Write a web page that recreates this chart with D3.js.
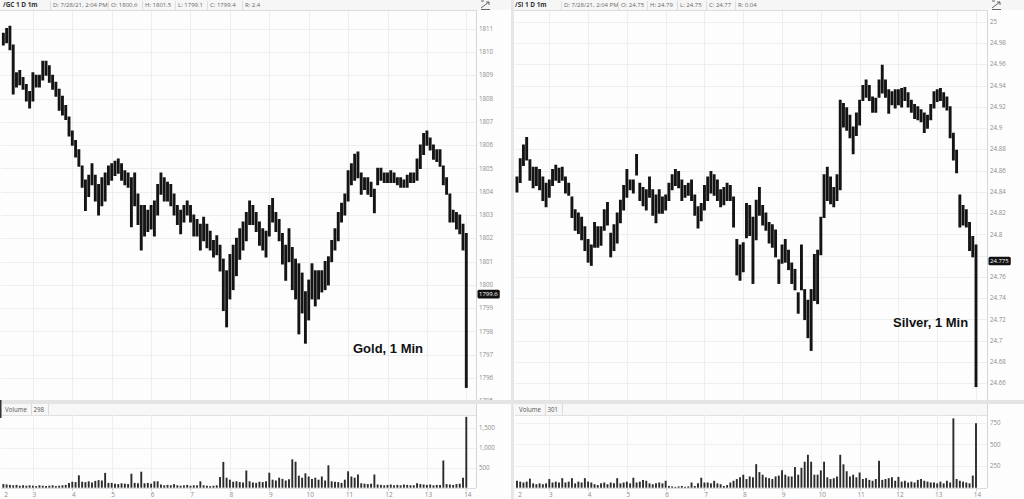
<!DOCTYPE html>
<html><head><meta charset="utf-8">
<script src="https://cdn.jsdelivr.net/npm/d3@7"></script>
<style>
html,body{margin:0;padding:0;background:#fff;}
svg{display:block;font-family:"Open Sans","DejaVu Sans",sans-serif;}
</style></head><body>
<svg id="c" width="1024" height="499"></svg>
<script>
// ---------------- DATA ----------------
const hourTicks = [2,3,4,5,6,7,8,9,10,11,12,13,14];
const barMinutes = 5;
const goldStartHour = 2.25;      // 02:15
const silverStartHour = 2 + 10/60; // 02:10

const goldHeader = ["/GC 1 D 1m","D: 7/28/21, 2:04 PM","O: 1800.6","H: 1801.5","L: 1799.1","C: 1799.4","R: 2.4"];
const silverHeader = ["/SI 1 D 1m","D: 7/28/21, 2:04 PM","O: 24.75","H: 24.79","L: 24.75","C: 24.77","R: 0.04"];

const goldPriceTicks = [1795,1796,1797,1798,1799,1800,1801,1802,1803,1804,1805,1806,1807,1808,1809,1810,1811];
const goldPriceLabels = ["1795","1796","1797","1798","1799","1800","1801","1802","1803","1804","1805","1806","1807","1808","1809","1810","1811"];
const silverPriceTicks = [24.66,24.68,24.70,24.72,24.74,24.76,24.78,24.80,24.82,24.84,24.86,24.88,24.90,24.92,24.94,24.96,24.98,25.00];
const silverPriceLabels = ["24.66","24.68","24.7","24.72","24.74","24.76","24.78","24.8","24.82","24.84","24.86","24.88","24.9","24.92","24.94","24.96","24.98","25"];

const goldVolTicks = [500,1000,1500];
const goldVolLabels = ["500","1,000","1,500"];
const silverVolTicks = [250,500,750];
const silverVolLabels = ["250","500","750"];

const goldLast = 1799.6, goldLastLabel = "1799.6", goldVolNow = "298";
const silverLast = 24.775, silverLastLabel = "24.775", silverVolNow = "301";

const goldHigh = [
1810.8,1811.0,1811.1,1810.3,1809.1,1809.2,1808.9,1808.6,1808.3,1809.1,
1809.0,1809.0,1809.6,1809.6,1809.4,1809.0,1808.7,1808.4,1808.1,1807.7,
1807.2,1806.6,1806.2,1805.8,1805.1,1804.5,1804.7,1805.2,1804.7,1804.3,
1804.6,1804.8,1805.1,1805.2,1805.3,1805.4,1805.2,1804.9,1804.8,1804.6,
1804.8,1803.9,1803.4,1803.4,1803.2,1803.4,1803.6,1804.3,1804.8,1804.6,
1804.4,1804.3,1803.9,1803.4,1803.2,1803.4,1803.6,1803.4,1803.0,1802.8,
1802.6,1802.9,1802.6,1802.3,1801.9,1802.1,1801.7,1801.1,1800.6,1801.3,
1801.7,1802.0,1802.4,1802.7,1803.1,1803.6,1803.4,1803.1,1802.7,1802.4,
1802.3,1803.4,1803.7,1803.1,1802.8,1802.2,1801.7,1802.4,1801.6,1801.1,
1800.9,1800.5,1799.7,1800.2,1800.9,1800.6,1800.6,1800.6,1801.0,1801.2,
1801.9,1802.4,1803.1,1803.5,1803.9,1804.9,1805.2,1805.6,1805.7,1804.8,
1804.6,1804.6,1804.4,1804.1,1805.0,1805.0,1804.8,1804.8,1804.9,1804.8,
1804.6,1804.6,1804.5,1804.7,1804.8,1804.8,1805.4,1806.0,1806.5,1806.6,
1806.3,1806.0,1805.8,1805.8,1805.1,1804.6,1803.9,1803.2,1803.1,1803.0,
1802.6,1802.2];
const goldLow = [
1810.3,1810.4,1810.1,1808.2,1808.5,1808.6,1808.4,1807.9,1807.6,1807.9,
1808.5,1808.5,1808.8,1809.0,1808.7,1808.4,1808.1,1807.5,1807.3,1807.1,
1806.4,1806.0,1805.5,1805.1,1804.2,1803.2,1803.8,1804.3,1803.6,1803.0,
1803.4,1803.6,1804.3,1804.5,1804.7,1804.8,1804.5,1804.3,1804.2,1802.5,
1803.4,1802.6,1801.5,1802.1,1802.3,1802.4,1802.1,1803.0,1803.9,1803.6,
1803.6,1803.4,1803.0,1802.6,1802.2,1802.7,1803.0,1802.7,1802.1,1802.1,
1801.5,1801.9,1801.6,1801.5,1801.2,1801.3,1800.6,1798.9,1798.2,1799.4,
1799.8,1800.4,1801.1,1801.5,1801.9,1802.6,1802.6,1802.3,1801.7,1801.5,
1801.2,1802.1,1802.7,1802.3,1801.9,1800.9,1800.2,1801.0,1799.8,1799.4,
1797.9,1798.8,1797.5,1798.5,1799.4,1799.1,1799.4,1799.7,1799.8,1800.0,
1801.0,1801.5,1801.9,1802.7,1803.0,1803.6,1804.3,1804.5,1804.6,1803.9,
1804.1,1803.9,1803.8,1803.1,1804.3,1804.5,1804.4,1804.4,1804.4,1804.4,
1804.3,1804.2,1804.2,1804.2,1804.4,1804.4,1804.5,1805.0,1805.6,1806.0,
1805.8,1805.4,1805.3,1805.1,1804.3,1803.9,1802.7,1802.7,1802.4,1802.2,
1801.5,1795.6];
const goldVolume = [
90,80,70,60,70,50,60,50,60,50,
40,60,50,40,50,60,40,50,60,70,
120,150,140,310,150,140,160,130,170,190,
180,370,120,120,100,90,110,100,90,350,
120,110,400,110,120,100,160,160,80,60,
70,60,90,60,50,60,70,50,60,60,
160,60,50,40,50,60,270,645,250,200,
150,160,140,130,430,160,130,120,150,140,
160,375,200,180,250,220,180,210,710,650,
300,250,360,280,220,250,200,280,180,560,
160,150,140,120,200,410,280,250,330,110,
100,90,100,330,80,70,60,70,80,60,
70,60,80,70,60,60,110,90,80,70,
80,60,70,70,680,90,80,70,90,100,
250,1770];

const silverHigh = [
24.854,24.871,24.884,24.891,24.870,24.863,24.863,24.861,24.854,24.848,
24.851,24.861,24.865,24.862,24.863,24.854,24.848,24.835,24.823,24.820,
24.816,24.807,24.795,24.790,24.811,24.807,24.807,24.823,24.830,24.801,
24.809,24.820,24.832,24.846,24.861,24.851,24.851,24.875,24.848,24.844,
24.842,24.854,24.842,24.837,24.842,24.835,24.837,24.848,24.856,24.861,
24.859,24.851,24.846,24.848,24.851,24.837,24.826,24.829,24.846,24.854,
24.859,24.856,24.851,24.842,24.844,24.848,24.846,24.835,24.795,24.790,
24.792,24.829,24.827,24.816,24.832,24.844,24.827,24.820,24.811,24.809,
24.804,24.776,24.790,24.795,24.785,24.773,24.767,24.745,24.790,24.748,
24.738,24.748,24.781,24.785,24.816,24.856,24.863,24.854,24.844,24.856,
24.926,24.923,24.919,24.912,24.901,24.914,24.926,24.940,24.945,24.940,
24.929,24.928,24.945,24.959,24.945,24.936,24.934,24.936,24.936,24.937,
24.938,24.933,24.926,24.922,24.920,24.917,24.914,24.912,24.922,24.934,
24.936,24.937,24.933,24.929,24.920,24.895,24.879,24.837,24.827,24.823,
24.811,24.798,24.790];
const silverLow = [
24.840,24.849,24.865,24.870,24.851,24.844,24.846,24.842,24.832,24.826,
24.835,24.846,24.851,24.849,24.851,24.839,24.837,24.816,24.804,24.801,
24.795,24.785,24.774,24.771,24.788,24.788,24.790,24.804,24.809,24.779,
24.785,24.792,24.811,24.823,24.835,24.842,24.839,24.856,24.832,24.827,
24.823,24.835,24.818,24.811,24.820,24.820,24.823,24.832,24.842,24.846,
24.844,24.832,24.835,24.837,24.832,24.818,24.806,24.813,24.823,24.832,
24.839,24.837,24.832,24.826,24.828,24.832,24.832,24.807,24.762,24.757,
24.765,24.797,24.799,24.754,24.795,24.818,24.809,24.804,24.792,24.788,
24.779,24.754,24.773,24.774,24.767,24.754,24.748,24.726,24.748,24.720,
24.703,24.691,24.738,24.735,24.781,24.816,24.832,24.829,24.826,24.832,
24.842,24.901,24.898,24.891,24.876,24.893,24.903,24.926,24.929,24.926,
24.915,24.915,24.929,24.933,24.929,24.914,24.922,24.919,24.922,24.920,
24.926,24.920,24.915,24.909,24.908,24.906,24.896,24.900,24.908,24.919,
24.925,24.926,24.920,24.917,24.891,24.870,24.858,24.807,24.809,24.807,
24.785,24.779,24.657];
const silverVolume = [
80,70,60,70,105,50,40,50,40,50,
100,60,70,60,110,60,70,110,50,70,
60,110,70,60,40,30,50,60,40,60,
50,110,50,60,70,50,115,60,70,90,
80,50,40,50,60,50,80,20,15,10,
15,20,10,15,60,20,50,115,60,60,
50,80,50,40,20,30,60,80,100,120,
150,100,130,120,272,180,150,120,110,100,
130,140,200,150,130,130,240,150,230,300,
380,300,150,150,200,300,120,100,110,130,
380,270,190,130,150,120,175,100,110,90,
80,100,310,90,100,110,120,80,125,70,
80,60,70,60,90,100,80,70,60,60,
50,70,50,80,60,800,100,80,70,60,
50,140,745];

// ---------------- DRAW ----------------
const svg = d3.select("#c");
svg.append("rect").attr("width",1024).attr("height",499).attr("fill","#ffffff");

function drawPanel(p) {
  const g = svg.append("g");
  const L = p.left, PL = p.plotLeft, PR = p.plotRight, R = p.right;
  const priceTop = 10.5, priceBot = 400, volTop = 415, volBot = 488;

  const x = d3.scaleLinear().domain(p.xDomain).range(p.xRange);
  const y = d3.scaleLinear().domain(p.yDomain).range(p.yRange);
  const yv = d3.scaleLinear().domain(p.vDomain).range(p.vRange);

  const bars = p.high.map((h,i)=>({t: p.start + i*barMinutes/60, h, l: p.low[i], v: p.vol[i]}));

  g.append("rect").attr("x",L).attr("y",0).attr("width",R-L).attr("height",499).attr("fill","#fdfdfd");

  const cid = "clip"+p.id;
  svg.append("clipPath").attr("id",cid).append("rect")
     .attr("x",PL).attr("y",priceTop).attr("width",PR-PL).attr("height",priceBot-priceTop);

  // grid (price)
  g.append("g").selectAll("line").data(p.priceTicks).join("line")
    .attr("x1",PL).attr("x2",PR).attr("y1",d=>Math.round(y(d))+0.5).attr("y2",d=>Math.round(y(d))+0.5)
    .attr("stroke","#eeeeee").attr("stroke-width",1);
  g.append("g").selectAll("line").data(hourTicks.filter(h=>x(h)>PL && x(h)<PR)).join("line")
    .attr("x1",d=>Math.round(x(d))+0.5).attr("x2",d=>Math.round(x(d))+0.5)
    .attr("y1",priceTop).attr("y2",priceBot).attr("stroke","#eeeeee");

  // price bars
  g.append("g").attr("clip-path","url(#"+cid+")").selectAll("line").data(bars).join("line")
    .attr("x1",d=>x(d.t)).attr("x2",d=>x(d.t))
    .attr("y1",d=>y(d.h)-0.6).attr("y2",d=>y(d.l)+0.6)
    .attr("stroke","#141414").attr("stroke-width",2.9);

  // last price tag position
  const ly = y(p.last);

  // price axis labels (labels hidden behind the tag are skipped, as in the reference)
  g.append("g").selectAll("text").data(p.priceTicks.filter(d=>Math.abs(y(d)-ly)>7)).join("text")
    .attr("x",PR+3).attr("y",d=>y(d)).attr("dy","0.35em")
    .attr("font-size",6.2).attr("fill","#8c8c8c").text(d=>p.priceLabels[p.priceTicks.indexOf(d)]);

  const tagRect = g.append("rect").attr("x",PR+1.5).attr("y",ly-4.3).attr("height",8.6)
    .attr("rx",1.5).attr("fill","#111");
  const tagText = g.append("text").attr("x",PR+3).attr("y",ly).attr("dy","0.35em").attr("font-size",6)
    .attr("fill","#fff").text(p.lastLabel);
  tagRect.attr("width", tagText.node().getComputedTextLength()+3.5);

  // annotation
  g.append("text").attr("x",p.noteX).attr("y",p.noteY)
    .attr("font-family","'Liberation Sans',Arial,sans-serif").attr("font-weight","bold")
    .attr("font-size",13).attr("fill","#111").text(p.note);

  // header
  g.append("rect").attr("x",L).attr("y",0).attr("width",R-L).attr("height",10).attr("fill","#f6f6f6");
  g.append("line").attr("x1",L).attr("x2",PR).attr("y1",10.5).attr("y2",10.5).attr("stroke","#dcdcdc");
  p.header.forEach((t,i)=>{
    const hx = L + p.headerX[i];
    g.append("text").attr("x",hx).attr("y",7.3).attr("font-size",i===0?6.4:6)
      .attr("font-weight",i===0?"bold":"normal").attr("fill",i===0?"#333":"#666").text(t);
    if (i>0) g.append("line").attr("x1",hx-2.5).attr("x2",hx-2.5).attr("y1",1).attr("y2",10)
      .attr("stroke","#dedede");
  });
  const ix = PR+5;
  g.append("path").attr("d",`M${ix},${8} L${ix+8},${2} M${ix+5},${2} L${ix+8},${2} L${ix+8},${5} M${ix},${9.5} L${ix+9},${9.5} M${ix},${1} L${ix+3},${1}`)
    .attr("stroke","#555").attr("stroke-width",0.9).attr("fill","none");

  g.append("line").attr("x1",PR+0.5).attr("x2",PR+0.5).attr("y1",10).attr("y2",volBot)
    .attr("stroke","#d6d6d6");

  // separator
  g.append("rect").attr("x",L).attr("y",400).attr("width",R-L).attr("height",4).attr("fill","#e4e4e4");

  // volume header
  g.append("rect").attr("x",PL).attr("y",404).attr("width",PR-PL).attr("height",11).attr("fill","#f7f7f7");
  g.append("line").attr("x1",PL).attr("x2",PR).attr("y1",415.5).attr("y2",415.5).attr("stroke","#e0e0e0");
  g.append("text").attr("x",PL+4).attr("y",412).attr("font-size",6.2).attr("fill","#555").text("Volume");
  g.append("line").attr("x1",PL+30.5).attr("x2",PL+30.5).attr("y1",404).attr("y2",415).attr("stroke","#dcdcdc");
  g.append("text").attr("x",PL+32.5).attr("y",412).attr("font-size",6.2).attr("fill","#555").text(p.volNow);
  g.append("line").attr("x1",PL+47.5).attr("x2",PL+47.5).attr("y1",404).attr("y2",415).attr("stroke","#dcdcdc");

  // volume grid
  g.append("g").selectAll("line").data(p.volTicks).join("line")
    .attr("x1",PL).attr("x2",PR).attr("y1",d=>Math.round(yv(d))+0.5).attr("y2",d=>Math.round(yv(d))+0.5)
    .attr("stroke","#efefef");
  g.append("g").selectAll("line").data(hourTicks.filter(h=>x(h)>PL && x(h)<PR)).join("line")
    .attr("x1",d=>Math.round(x(d))+0.5).attr("x2",d=>Math.round(x(d))+0.5)
    .attr("y1",volTop).attr("y2",volBot).attr("stroke","#efefef");

  // volume bars
  g.append("g").selectAll("line").data(bars).join("line")
    .attr("x1",d=>x(d.t)).attr("x2",d=>x(d.t))
    .attr("y1",d=>yv(d.v)).attr("y2",yv(0))
    .attr("stroke","#2b2b2b").attr("stroke-width",1.9);
  g.append("line").attr("x1",PL).attr("x2",PR).attr("y1",volBot+0.5).attr("y2",volBot+0.5).attr("stroke","#dcdcdc");

  g.append("g").selectAll("text").data(p.volTicks).join("text")
    .attr("x",PR+3).attr("y",d=>yv(d)).attr("dy","0.35em")
    .attr("font-size",6.2).attr("fill","#8c8c8c").text((d,i)=>p.volLabels[i]);

  // x axis
  const xa = g.append("g");
  hourTicks.forEach(h=>{
    const tx = x(h);
    if (tx>PL && tx<PR) xa.append("line").attr("x1",Math.round(tx)+0.5).attr("x2",Math.round(tx)+0.5)
       .attr("y1",volBot).attr("y2",volBot+3).attr("stroke","#cfcfcf");
    xa.append("text").attr("x",Math.max(tx+1.5, PL+5)).attr("y",496.5).attr("text-anchor","middle")
      .attr("font-size",6.4).attr("fill","#8c8c8c").text(String(h));
  });
}

drawPanel({
  id:"g", left:0, plotLeft:1, plotRight:476, right:511,
  xDomain:[4,14], xRange:[72.3,466.3],
  yDomain:[1811,1796], yRange:[28.7,378],
  vDomain:[0,1500], vRange:[487.7,427.7],
  start:goldStartHour, high:goldHigh, low:goldLow, vol:goldVolume,
  priceTicks:goldPriceTicks, priceLabels:goldPriceLabels,
  volTicks:goldVolTicks, volLabels:goldVolLabels,
  last:goldLast, lastLabel:goldLastLabel, volNow:goldVolNow,
  note:"Gold, 1 Min", noteX:353, noteY:352.5,
  header:goldHeader, headerX:[3,53,111,145,178,210,245]
});
drawPanel({
  id:"s", left:514, plotLeft:515, plotRight:987, right:1024,
  xDomain:[3,14], xRange:[549.3,976],
  yDomain:[25,24.66], yRange:[21.7,383.3],
  vDomain:[0,750], vRange:[487.7,422.7],
  start:silverStartHour, high:silverHigh, low:silverLow, vol:silverVolume,
  priceTicks:silverPriceTicks, priceLabels:silverPriceLabels,
  volTicks:silverVolTicks, volLabels:silverVolLabels,
  last:silverLast, lastLabel:silverLastLabel, volNow:silverVolNow,
  note:"Silver, 1 Min", noteX:893, noteY:327,
  header:silverHeader, headerX:[1,50,107,136,166,195,224]
});

svg.append("rect").attr("x",511).attr("y",0).attr("width",3).attr("height",499).attr("fill","#e6e6e6");
svg.append("rect").attr("x",0).attr("y",400).attr("width",1.5).attr("height",18).attr("fill","#333");
</script>
</body></html>
